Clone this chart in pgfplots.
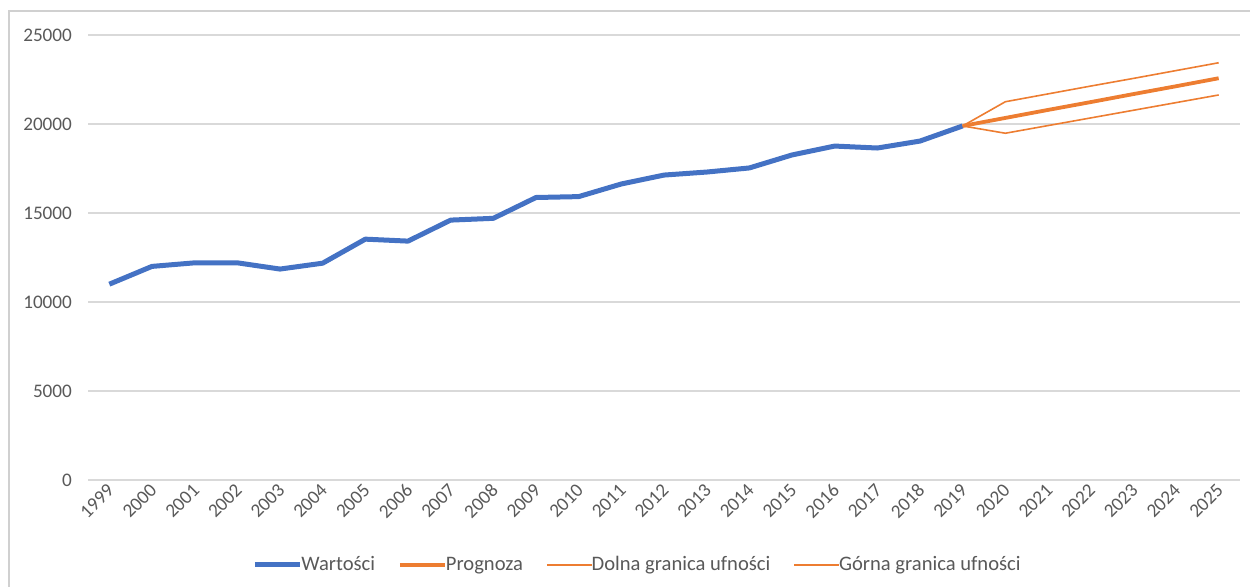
\documentclass[border=0pt]{standalone}
\usepackage{fontspec}
\setmainfont{Carlito}
\usepackage{pgfplots}
\pgfplotsset{compat=1.18}
\definecolor{cblue}{HTML}{4472C4}
\definecolor{corange}{HTML}{ED7D31}
\definecolor{cgrid}{HTML}{D9D9D9}
\definecolor{ctext}{HTML}{595959}
\definecolor{cframe}{HTML}{D0D0D0}

\begin{document}
\begin{tikzpicture}
\useasboundingbox (0,0) rectangle (625pt,293.5pt);
\draw[cframe, line width=0.8pt] (4.5pt,-2pt) -- (4.5pt,288pt) -- (630pt,288pt);
\begin{axis}[
  at={(44pt,53.5pt)}, anchor=south west,
  scale only axis, width=576pt, height=222.5pt,
  xmin=1998.5, xmax=2025.5, ymin=0, ymax=25000,
  xtick={1999,...,2025}, ytick={0,5000,...,25000},
  scaled y ticks=false,
  /pgf/number format/1000 sep={},
  /pgf/number format/assume math mode=true,
  axis line style={draw=none},
  tick style={draw=none},
  ymajorgrids, grid style={cgrid, line width=0.8pt},
  tick label style={font=\fontsize{9.6}{11}\selectfont, text=ctext},
  yticklabel style={anchor=east, xshift=-4.5pt},
  xticklabel style={rotate=45, anchor=east, xshift=1.5pt, yshift=-3pt},
  legend style={at={(0.4766,-0.191)}, anchor=center, draw=none, fill=none,
    legend columns=-1, font=\fontsize{10.3}{12}\selectfont, text=ctext,
    /tikz/every even column/.append style={column sep=11pt},
    /tikz/every odd column/.append style={column sep=-1pt},
    inner sep=0pt, nodes={inner sep=0.5pt}},
  legend image code/.code={\draw[#1] (0pt,0pt) -- (22.5pt,0pt);},
  clip=false,
]
\addplot[cblue, line width=2.5pt, line join=round] coordinates {
(1999,11000) (2000,12000) (2001,12200) (2002,12200) (2003,11850)
(2004,12180) (2005,13530) (2006,13420) (2007,14600) (2008,14700)
(2009,15870) (2010,15920) (2011,16630) (2012,17130) (2013,17300)
(2014,17530) (2015,18260) (2016,18760) (2017,18650) (2018,19040)
(2019,19890)};
\addlegendentry{Wartości}
\addplot[corange, line width=1.9pt] coordinates {
(2019,19890) (2020,20340) (2021,20790) (2022,21230) (2023,21680) (2024,22120) (2025,22570)};
\addlegendentry{Prognoza}
\addplot[corange, line width=0.8pt] coordinates {
(2019,19890) (2020,19480) (2021,19910) (2022,20340) (2023,20770) (2024,21200) (2025,21630)};
\addlegendentry{Dolna granica ufności}
\addplot[corange, line width=0.8pt] coordinates {
(2019,19890) (2020,21250) (2021,21690) (2022,22130) (2023,22560) (2024,23000) (2025,23440)};
\addlegendentry{Górna granica ufności}
\end{axis}
\end{tikzpicture}
\end{document}
